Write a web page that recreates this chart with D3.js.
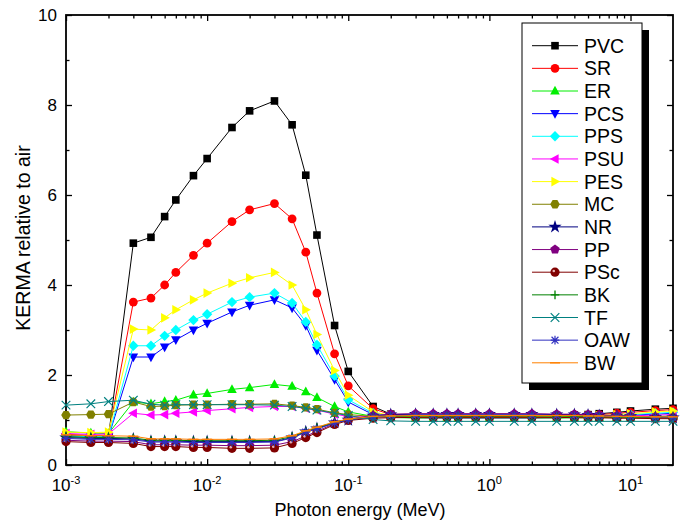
<!DOCTYPE html>
<html><head><meta charset="utf-8">
<script src="https://cdn.jsdelivr.net/npm/d3@7"></script>
<style>body{margin:0;background:#fff;} svg{display:block;font-family:"Liberation Sans",Arial,sans-serif;}</style>
</head><body><svg id="c" width="682" height="522"></svg>
<script>
const energies = [0.001,0.0015,0.002,0.003,0.004,0.005,0.006,0.008,0.01,0.015,0.02,0.03,0.04,0.05,0.06,0.08,0.1,0.15,0.2,0.3,0.4,0.5,0.6,0.8,1,1.5,2,3,4,5,6,8,10,15,20];
const seriesNames = ["PVC","SR","ER","PCS","PPS","PSU","PES","MC","NR","PP","PSc","BK","TF","OAW","BW"];
const seriesColors = ["#000000","#ff0000","#00ee00","#0000ff","#00ffff","#ff00ff","#ffff00","#808000","#000080","#800080","#800000","#008000","#008080","#3030c0","#ff8000"];
const seriesSymbols = ["square","circle","up","down","diamond","left","right","hexagon","star","pentagon","sphere","plus","x","asterisk","bar"];

const PVC = [0.66,0.64,0.63,4.93,5.06,5.52,5.89,6.43,6.81,7.50,7.87,8.09,7.56,6.44,5.11,3.10,2.08,1.30,1.13,1.10,1.09,1.08,1.08,1.08,1.08,1.08,1.09,1.10,1.11,1.12,1.14,1.17,1.20,1.24,1.26];
const SR  = [0.68,0.66,0.66,3.62,3.71,4.00,4.28,4.66,4.93,5.41,5.67,5.81,5.47,4.73,3.82,2.47,1.76,1.25,1.12,1.09,1.08,1.07,1.07,1.07,1.07,1.07,1.08,1.09,1.10,1.11,1.12,1.15,1.17,1.21,1.23];
const ER  = [0.74,0.71,0.70,1.40,1.36,1.41,1.44,1.56,1.59,1.68,1.72,1.79,1.75,1.63,1.50,1.30,1.18,1.08,1.06,1.04,1.04,1.04,1.04,1.04,1.04,1.04,1.04,1.04,1.05,1.05,1.05,1.06,1.07,1.08,1.09];
const PCS = [0.63,0.62,0.62,2.40,2.40,2.62,2.78,3.00,3.15,3.40,3.55,3.67,3.49,3.10,2.55,1.90,1.40,1.12,1.08,1.06,1.05,1.05,1.05,1.05,1.05,1.05,1.05,1.06,1.06,1.07,1.08,1.09,1.11,1.13,1.15];
const PPS = [0.65,0.63,0.63,2.65,2.65,2.87,3.00,3.22,3.35,3.62,3.73,3.82,3.60,3.18,2.67,1.98,1.45,1.15,1.09,1.07,1.06,1.06,1.06,1.06,1.06,1.06,1.06,1.07,1.07,1.08,1.09,1.10,1.12,1.15,1.17];
const PSU = [0.70,0.68,0.69,1.15,1.11,1.12,1.15,1.18,1.21,1.25,1.28,1.30,1.30,1.26,1.22,1.13,1.08,1.06,1.07,1.05,1.05,1.05,1.05,1.05,1.05,1.05,1.05,1.05,1.06,1.06,1.07,1.08,1.09,1.11,1.12];
const PES = [0.73,0.72,0.73,3.02,3.00,3.27,3.45,3.67,3.82,4.04,4.16,4.28,4.00,3.45,2.90,2.10,1.55,1.18,1.10,1.07,1.07,1.06,1.06,1.06,1.06,1.06,1.07,1.07,1.08,1.09,1.10,1.12,1.14,1.18,1.20];
const MC  = [1.11,1.12,1.13,1.40,1.30,1.31,1.33,1.34,1.34,1.35,1.35,1.36,1.32,1.28,1.24,1.16,1.12,1.08,1.07,1.06,1.06,1.06,1.06,1.06,1.06,1.06,1.06,1.06,1.06,1.06,1.06,1.05,1.05,1.05,1.05];
const NR  = [0.61,0.59,0.59,0.58,0.53,0.53,0.53,0.52,0.52,0.52,0.52,0.52,0.61,0.74,0.81,0.94,1.00,1.09,1.12,1.13,1.13,1.13,1.13,1.13,1.13,1.13,1.13,1.12,1.12,1.11,1.10,1.09,1.08,1.06,1.05];
const PP  = [0.55,0.53,0.53,0.52,0.45,0.45,0.45,0.44,0.44,0.43,0.43,0.44,0.52,0.64,0.75,0.92,1.02,1.10,1.13,1.14,1.14,1.14,1.14,1.14,1.14,1.14,1.14,1.13,1.13,1.12,1.11,1.10,1.09,1.07,1.06];
const PSc = [0.52,0.50,0.50,0.48,0.41,0.41,0.41,0.39,0.39,0.37,0.37,0.38,0.48,0.61,0.72,0.90,0.99,1.04,1.05,1.06,1.06,1.06,1.06,1.06,1.06,1.06,1.06,1.06,1.05,1.05,1.05,1.04,1.04,1.03,1.03];
const BK  = [0.63,0.61,0.61,0.60,0.55,0.55,0.55,0.54,0.54,0.54,0.54,0.55,0.63,0.75,0.83,0.95,1.01,1.07,1.08,1.09,1.09,1.09,1.09,1.09,1.09,1.09,1.09,1.09,1.08,1.08,1.08,1.07,1.07,1.06,1.06];
const TF  = [1.33,1.36,1.41,1.44,1.35,1.33,1.34,1.34,1.34,1.34,1.34,1.33,1.30,1.26,1.22,1.15,1.10,1.01,0.98,0.97,0.97,0.97,0.97,0.97,0.97,0.97,0.97,0.97,0.97,0.97,0.97,0.97,0.97,0.97,0.97];
const OAW = [0.59,0.57,0.57,0.56,0.51,0.51,0.51,0.50,0.50,0.50,0.50,0.51,0.60,0.73,0.80,0.93,1.00,1.08,1.10,1.11,1.11,1.11,1.11,1.11,1.11,1.11,1.11,1.10,1.10,1.10,1.09,1.08,1.08,1.07,1.06];
const BW  = [0.67,0.65,0.65,0.64,0.58,0.58,0.58,0.57,0.57,0.57,0.57,0.58,0.65,0.76,0.84,0.96,1.02,1.08,1.09,1.10,1.10,1.10,1.10,1.10,1.10,1.10,1.10,1.10,1.10,1.09,1.09,1.08,1.08,1.07,1.07];
const seriesValues = [PVC,SR,ER,PCS,PPS,PSU,PES,MC,NR,PP,PSc,BK,TF,OAW,BW];

const xMajor = [0.001,0.01,0.1,1,10];
const xMajorExp = ["-3","-2","-1","0","1"];
const yMajor = [0,2,4,6,8,10];
const yMinor = [1,3,5,7,9];

const svg = d3.select("#c");
const L=66,R=673,T=15,B=465;
const x = d3.scaleLog().domain([0.001,20]).range([L,R]);
const y = d3.scaleLinear().domain([0,10]).range([B,T]);

const xMinor = [];
for (let d=0.001; d<=10; d*=10) for (let k=2;k<=9;k++){ const v=+(d*k).toPrecision(3); if (v<20) xMinor.push(v);}

function styleAxis(g){ g.select(".domain").remove(); g.selectAll("line").attr("stroke","#000").attr("stroke-width",1.3); g.selectAll("text").remove(); }
svg.append("g").attr("transform",`translate(0,${B})`).call(d3.axisBottom(x).tickValues(xMajor).tickSize(-6).tickFormat("")).call(styleAxis);
svg.append("g").attr("transform",`translate(0,${B})`).call(d3.axisBottom(x).tickValues(xMinor).tickSize(-3.5).tickFormat("")).call(styleAxis);
svg.append("g").attr("transform",`translate(0,${T})`).call(d3.axisTop(x).tickValues(xMajor).tickSize(-6).tickFormat("")).call(styleAxis);
svg.append("g").attr("transform",`translate(0,${T})`).call(d3.axisTop(x).tickValues(xMinor).tickSize(-3.5).tickFormat("")).call(styleAxis);
svg.append("g").attr("transform",`translate(${L},0)`).call(d3.axisLeft(y).tickValues(yMajor).tickSize(-6).tickFormat("")).call(styleAxis);
svg.append("g").attr("transform",`translate(${L},0)`).call(d3.axisLeft(y).tickValues(yMinor).tickSize(-3.5).tickFormat("")).call(styleAxis);
svg.append("g").attr("transform",`translate(${R},0)`).call(d3.axisRight(y).tickValues(yMajor).tickSize(-6).tickFormat("")).call(styleAxis);
svg.append("g").attr("transform",`translate(${R},0)`).call(d3.axisRight(y).tickValues(yMinor).tickSize(-3.5).tickFormat("")).call(styleAxis);

svg.append("rect").attr("x",L).attr("y",T).attr("width",R-L).attr("height",B-T).attr("fill","none").attr("stroke","#000").attr("stroke-width",1.8);

// tick labels
yMajor.forEach(v=>{
  svg.append("text").attr("x",L-9).attr("y",y(v)+6).attr("text-anchor","end").attr("font-size",17).text(v);
});
xMajor.forEach((v,i)=>{
  const t = svg.append("text").attr("x",x(v)).attr("y",491).attr("text-anchor","middle").attr("font-size",17);
  t.append("tspan").text("10");
  t.append("tspan").attr("dy",-7).attr("font-size",11).text(xMajorExp[i]);
});
svg.append("text").attr("x",360).attr("y",516).attr("text-anchor","middle").attr("font-size",18).text("Photon energy (MeV)");
svg.append("text").attr("transform","translate(30,238) rotate(-90)").attr("text-anchor","middle").attr("font-size",19.5).text("KERMA relative to air");

function poly(pts){ return "M"+pts.map(p=>p[0].toFixed(2)+","+p[1].toFixed(2)).join("L")+"Z"; }
function regular(n,r,rot){ const a=[]; for(let i=0;i<n;i++){const t=rot+i*2*Math.PI/n; a.push([r*Math.cos(t),r*Math.sin(t)]);} return poly(a); }
function drawMarker(g,sym,c){
  const s=4.3;
  switch(sym){
    case "square": g.append("rect").attr("x",-3.8).attr("y",-3.8).attr("width",7.6).attr("height",7.6).attr("fill",c); break;
    case "circle": g.append("circle").attr("r",4.4).attr("fill",c); break;
    case "up": g.append("path").attr("d",poly([[0,-5.2],[4.8,3.6],[-4.8,3.6]])).attr("fill",c); break;
    case "down": g.append("path").attr("d",poly([[0,5.2],[4.8,-3.6],[-4.8,-3.6]])).attr("fill",c); break;
    case "left": g.append("path").attr("d",poly([[-5.2,0],[3.6,-4.8],[3.6,4.8]])).attr("fill",c); break;
    case "right": g.append("path").attr("d",poly([[5.2,0],[-3.6,-4.8],[-3.6,4.8]])).attr("fill",c); break;
    case "diamond": g.append("path").attr("d",poly([[0,-5.2],[5.2,0],[0,5.2],[-5.2,0]])).attr("fill",c); break;
    case "hexagon": g.append("path").attr("d",regular(6,4.8,0)).attr("fill",c); break;
    case "pentagon": g.append("path").attr("d",regular(5,5,-Math.PI/2)).attr("fill",c); break;
    case "star": g.append("path").attr("d",d3.symbol(d3.symbolStar,55)()).attr("fill",c); break;
    case "sphere": g.append("circle").attr("r",4.6).attr("fill",c); g.append("circle").attr("cx",-1.2).attr("cy",-1.2).attr("r",1.3).attr("fill","#e8b0b0"); break;
    case "plus": g.append("path").attr("d",`M${-s},0H${s}M0,${-s}V${s}`).attr("stroke",c).attr("stroke-width",1.3).attr("fill","none"); break;
    case "x": g.append("path").attr("d",`M${-s},${-s}L${s},${s}M${-s},${s}L${s},${-s}`).attr("stroke",c).attr("stroke-width",1.2).attr("fill","none"); break;
    case "asterisk": g.append("path").attr("d",`M${-s},0H${s}M${-s*0.8},${-s*0.8}L${s*0.8},${s*0.8}M${-s*0.8},${s*0.8}L${s*0.8},${-s*0.8}M0,${-s}V${s}`).attr("stroke",c).attr("stroke-width",1.2).attr("fill","none"); break;
    case "bar": g.append("path").attr("d",`M${-5},0H${5}`).attr("stroke",c).attr("stroke-width",1.4).attr("fill","none"); break;
  }
}

const line = d3.line().x(d=>x(d[0])).y(d=>y(d[1]));
seriesValues.forEach((vals,i)=>{
  const pts = energies.map((e,j)=>[e,vals[j]]);
  const g = svg.append("g");
  g.append("path").attr("d",line(pts)).attr("fill","none").attr("stroke",seriesColors[i]).attr("stroke-width",1);
  pts.forEach(p=>{ const m=g.append("g").attr("transform",`translate(${x(p[0])},${y(p[1])})`); drawMarker(m,seriesSymbols[i],seriesColors[i]); });
});

// legend
const lg = svg.append("g");
lg.append("rect").attr("x",529).attr("y",30).attr("width",120).attr("height",360).attr("fill","#000");
lg.append("rect").attr("x",522).attr("y",23).attr("width",120).attr("height",360).attr("fill","#fff").attr("stroke","#000").attr("stroke-width",1);
seriesNames.forEach((n,i)=>{
  const cy = 45.7 + i*22.65;
  lg.append("line").attr("x1",532).attr("x2",578).attr("y1",cy).attr("y2",cy).attr("stroke",seriesColors[i]).attr("stroke-width",1);
  const m = lg.append("g").attr("transform",`translate(555,${cy})`); drawMarker(m,seriesSymbols[i],seriesColors[i]);
  lg.append("text").attr("x",584).attr("y",cy+7).attr("font-size",19.5).text(n);
});
</script></body></html>
